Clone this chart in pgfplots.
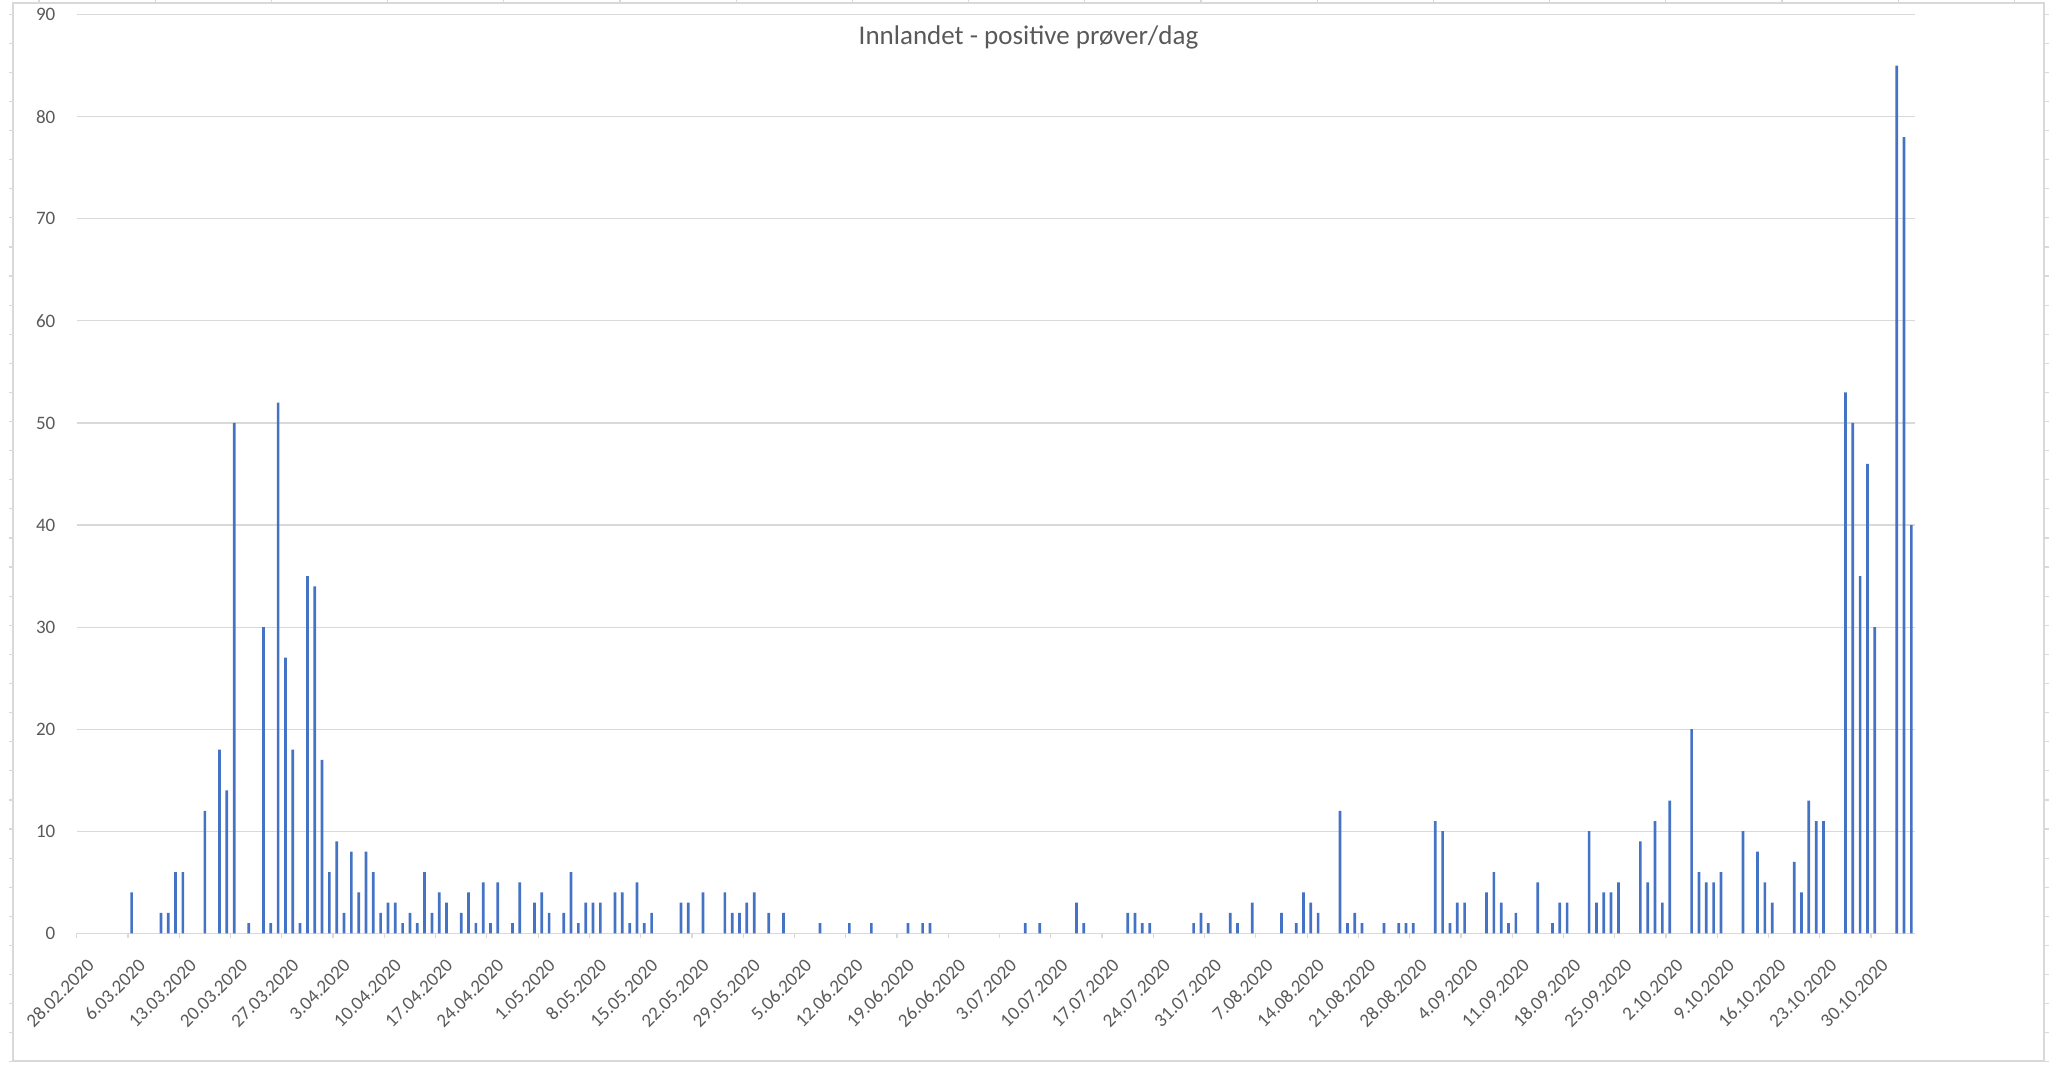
\documentclass[border=0pt]{standalone}
\usepackage{pgfplots}
\pgfplotsset{compat=1.18}
\usepackage{fontspec}
\setmainfont{Carlito}
\definecolor{xlblue}{HTML}{4472C4}
\definecolor{xlgrid}{HTML}{D9D9D9}
\definecolor{xltext}{HTML}{595959}
\begin{document}
\begin{tikzpicture}
\useasboundingbox (0,0) rectangle (1024.5pt,533pt);
% chart area frame and worksheet cell marks
\draw[xlgrid, line width=0.75pt] (6.5pt,2.5pt) rectangle (1022pt,531.5pt);
\foreach \k in {0,...,36}{
  \draw[xlgrid, line width=0.6pt] (4.5pt,{533pt-(14.2pt+29.1pt*\k)/2}) -- (6.5pt,{533pt-(14.2pt+29.1pt*\k)/2});
  \draw[xlgrid, line width=0.6pt] (1022pt,{533pt-(14.2pt+29.1pt*\k)/2}) -- (1024.5pt,{533pt-(14.2pt+29.1pt*\k)/2});
}
\foreach \k in {0,...,17}{
  \draw[xlgrid, line width=0.6pt] ({(39pt+116.2pt*\k)/2},531.5pt) -- ({(39pt+116.2pt*\k)/2},533pt);
}
\node[anchor=base, text=xltext, font=\fontsize{13.5}{16}\selectfont, inner sep=0pt] at (514.25pt,510.9pt) {Innlandet - positive prøver/dag};
\begin{axis}[
  at={(38.35pt,66.35pt)}, anchor=south west,
  scale only axis, width=919.15pt, height=459.3pt,
  xmin=0, xmax=251, ymin=0, ymax=90,
  axis x line=bottom, axis y line=left,
  x axis line style={draw=xlgrid, line width=0.6pt, -},
  y axis line style={draw=none},
  ymajorgrids, grid style={draw=xlgrid, line width=0.6pt},
  ytick={0,10,...,90},
  ytick style={draw=none},
  xtick={0,7,...,245},
  xticklabels={28.02.2020,6.03.2020,13.03.2020,20.03.2020,27.03.2020,3.04.2020,10.04.2020,17.04.2020,24.04.2020,1.05.2020,8.05.2020,15.05.2020,22.05.2020,29.05.2020,5.06.2020,12.06.2020,19.06.2020,26.06.2020,3.07.2020,10.07.2020,17.07.2020,24.07.2020,31.07.2020,7.08.2020,14.08.2020,21.08.2020,28.08.2020,4.09.2020,11.09.2020,18.09.2020,25.09.2020,2.10.2020,9.10.2020,16.10.2020,23.10.2020,30.10.2020},
  xtick style={draw=xlgrid, line width=0.6pt},
  tick align=outside, major tick length=2.5pt,
  /pgf/number format/assume math mode=true,
  xticklabel style={rotate=45, anchor=east, inner sep=0pt, xshift=-3.5pt, yshift=-13.5pt, text=xltext, font=\fontsize{9.5}{11}\selectfont},
  yticklabel style={anchor=east, inner sep=0pt, xshift=-8pt, text=xltext, font=\fontsize{9.5}{11}\selectfont},
]
\addplot[ybar, bar width=1.35pt, bar shift=0pt, fill=xlblue, draw=none] table[x expr=\thisrow{d}+0.5, y=v] {
d v
7 4
11 2
12 2
13 6
14 6
17 12
19 18
20 14
21 50
23 1
25 30
26 1
27 52
28 27
29 18
30 1
31 35
32 34
33 17
34 6
35 9
36 2
37 8
38 4
39 8
40 6
41 2
42 3
43 3
44 1
45 2
46 1
47 6
48 2
49 4
50 3
52 2
53 4
54 1
55 5
56 1
57 5
59 1
60 5
62 3
63 4
64 2
66 2
67 6
68 1
69 3
70 3
71 3
73 4
74 4
75 1
76 5
77 1
78 2
82 3
83 3
85 4
88 4
89 2
90 2
91 3
92 4
94 2
96 2
101 1
105 1
108 1
113 1
115 1
116 1
129 1
131 1
136 3
137 1
143 2
144 2
145 1
146 1
152 1
153 2
154 1
157 2
158 1
160 3
164 2
166 1
167 4
168 3
169 2
172 12
173 1
174 2
175 1
178 1
180 1
181 1
182 1
185 11
186 10
187 1
188 3
189 3
192 4
193 6
194 3
195 1
196 2
199 5
201 1
202 3
203 3
206 10
207 3
208 4
209 4
210 5
213 9
214 5
215 11
216 3
217 13
220 20
221 6
222 5
223 5
224 6
227 10
229 8
230 5
231 3
234 7
235 4
236 13
237 11
238 11
241 53
242 50
243 35
244 46
245 30
248 85
249 78
250 40
};
\end{axis}
\end{tikzpicture}
\end{document}
